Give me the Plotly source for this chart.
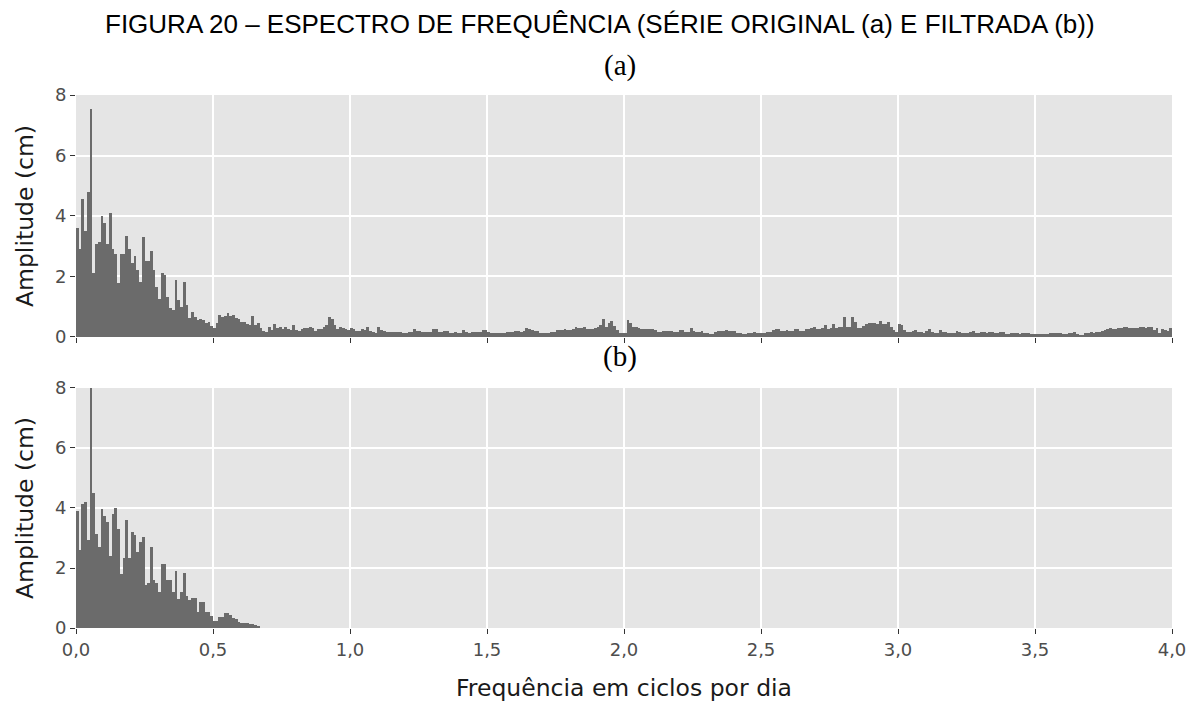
import plotly.graph_objects as go

# ---- data (amplitude in cm, bins of 0.01 cycles/day starting at 0) ----
bin_width = 0.01

# (a) original series, 0.0 - 1.0 cpd
amp_a_0_1 = [3.6, 2.9, 4.56, 3.5, 4.8, 7.54, 2.13, 3.07, 3.15, 4.0,
             3.78, 3.07, 4.11, 2.9, 2.74, 1.8, 2.74, 2.74, 3.35, 2.9,
             2.46, 2.69, 2.2, 1.82, 3.32, 2.52, 2.5, 2.85, 2.2, 1.66,
             1.26, 2.13, 2.05, 1.33, 0.96, 0.89, 1.88, 1.22, 1.0, 1.83,
             1.06, 0.62, 0.84, 0.67, 0.56, 0.58, 0.55, 0.45, 0.51, 0.37,
             0.3, 0.45, 0.73, 0.65, 0.7, 0.8, 0.69, 0.73, 0.62, 0.6,
             0.5, 0.5, 0.43, 0.4, 0.69, 0.4, 0.45, 0.29, 0.2, 0.18,
             0.34, 0.23, 0.43, 0.29, 0.34, 0.25, 0.32, 0.28, 0.23, 0.4,
             0.23, 0.21, 0.25, 0.29, 0.3, 0.32, 0.29, 0.21, 0.25, 0.28,
             0.34, 0.4, 0.65, 0.6, 0.4, 0.25, 0.34, 0.29, 0.25, 0.23]
# (a) 1.0 - 2.0 cpd
amp_a_1_2 = [0.29, 0.27, 0.21, 0.21, 0.25, 0.23, 0.32, 0.21, 0.17, 0.14,
             0.34, 0.23, 0.2, 0.18, 0.16, 0.16, 0.18, 0.18, 0.16, 0.14,
             0.14, 0.16, 0.16, 0.25, 0.21, 0.21, 0.18, 0.18, 0.18, 0.18,
             0.26, 0.26, 0.16, 0.16, 0.2, 0.2, 0.14, 0.14, 0.18, 0.14,
             0.14, 0.22, 0.15, 0.12, 0.16, 0.16, 0.18, 0.18, 0.23, 0.22,
             0.18, 0.12, 0.12, 0.12, 0.13, 0.13, 0.12, 0.16, 0.18, 0.18,
             0.2, 0.2, 0.18, 0.2, 0.29, 0.26, 0.23, 0.2, 0.2, 0.14,
             0.12, 0.12, 0.14, 0.18, 0.18, 0.23, 0.23, 0.23, 0.25, 0.23,
             0.23, 0.28, 0.32, 0.29, 0.29, 0.32, 0.25, 0.25, 0.25, 0.3,
             0.34, 0.4, 0.58, 0.34, 0.45, 0.54, 0.35, 0.23, 0.14, 0.14]
# (a) 2.0 - 3.0 cpd
amp_a_2_3 = [0.12, 0.56, 0.45, 0.32, 0.32, 0.3, 0.26, 0.26, 0.25, 0.26,
             0.26, 0.23, 0.18, 0.18, 0.2, 0.2, 0.21, 0.2, 0.18, 0.18,
             0.23, 0.22, 0.18, 0.18, 0.29, 0.21, 0.18, 0.18, 0.2, 0.14,
             0.14, 0.1, 0.1, 0.18, 0.21, 0.21, 0.21, 0.23, 0.2, 0.21,
             0.21, 0.14, 0.14, 0.1, 0.1, 0.12, 0.12, 0.15, 0.12, 0.12,
             0.12, 0.12, 0.18, 0.18, 0.23, 0.25, 0.25, 0.21, 0.21, 0.23,
             0.21, 0.21, 0.25, 0.25, 0.21, 0.21, 0.25, 0.25, 0.31, 0.34,
             0.25, 0.25, 0.29, 0.4, 0.25, 0.3, 0.43, 0.29, 0.34, 0.34,
             0.65, 0.32, 0.32, 0.65, 0.5, 0.29, 0.29, 0.35, 0.42, 0.45,
             0.45, 0.45, 0.43, 0.53, 0.42, 0.42, 0.48, 0.34, 0.23, 0.18]
# (a) 3.0 - 4.0 cpd
amp_a_3_4 = [0.43, 0.4, 0.23, 0.18, 0.18, 0.2, 0.23, 0.15, 0.15, 0.14,
             0.2, 0.28, 0.18, 0.14, 0.14, 0.23, 0.18, 0.18, 0.14, 0.12,
             0.12, 0.21, 0.18, 0.14, 0.12, 0.14, 0.18, 0.21, 0.14, 0.14,
             0.18, 0.18, 0.14, 0.16, 0.18, 0.12, 0.14, 0.15, 0.18, 0.1,
             0.1, 0.12, 0.14, 0.14, 0.1, 0.12, 0.12, 0.14, 0.1, 0.1,
             0.1, 0.1, 0.1, 0.1, 0.1, 0.12, 0.12, 0.12, 0.12, 0.12,
             0.1, 0.1, 0.14, 0.14, 0.18, 0.1, 0.07, 0.07, 0.12, 0.12,
             0.18, 0.14, 0.18, 0.18, 0.21, 0.23, 0.25, 0.29, 0.25, 0.25,
             0.29, 0.29, 0.32, 0.32, 0.29, 0.29, 0.31, 0.31, 0.34, 0.32,
             0.31, 0.34, 0.34, 0.23, 0.29, 0.14, 0.25, 0.23, 0.2, 0.29]

# (b) filtered series, 0.0 - 0.67 cpd
amp_b = [3.9, 2.6, 4.13, 4.19, 2.93, 8.0, 4.49, 3.12, 2.7, 3.97,
         3.75, 3.55, 2.4, 3.8, 3.99, 3.3, 1.8, 2.35, 3.6, 2.34,
         3.2, 3.1, 2.54, 2.88, 3.04, 1.43, 1.5, 2.71, 1.6, 1.49,
         1.21, 2.13, 2.13, 1.6, 1.6, 1.2, 1.91, 0.96, 1.21, 1.82,
         1.08, 0.93, 0.99, 0.99, 0.52, 0.88, 0.88, 0.52, 0.52, 0.4,
         0.24, 0.24, 0.38, 0.38, 0.49, 0.51, 0.45, 0.33, 0.29, 0.21,
         0.18, 0.18, 0.16, 0.12, 0.12, 0.1, 0.07]

x_ticks = [0.0, 0.5, 1.0, 1.5, 2.0, 2.5, 3.0, 3.5, 4.0]
y_ticks = [0, 2, 4, 6, 8]

title_text = "FIGURA 20 – ESPECTRO DE FREQUÊNCIA (SÉRIE ORIGINAL (a) E FILTRADA (b))"
ylab = "Amplitude (cm)"
xlab = "Frequência em ciclos por dia"

amp_a = amp_a_0_1 + amp_a_1_2 + amp_a_2_3 + amp_a_3_4

bar_color = "#6B6B6B"
bg = "#E5E5E5"
tick_font = dict(family="DejaVu Sans", size=18, color="#4D4D4D")
title_font = dict(family="DejaVu Sans", size=23.5, color="#1a1a1a")

fig = go.Figure()
fig.add_trace(go.Bar(y=amp_a, x0=bin_width / 2, dx=bin_width, width=bin_width,
                     marker=dict(color=bar_color, line=dict(width=0)),
                     xaxis="x", yaxis="y", showlegend=False, hoverinfo="x+y"))
fig.add_trace(go.Bar(y=amp_b, x0=bin_width / 2, dx=bin_width, width=bin_width,
                     marker=dict(color=bar_color, line=dict(width=0)),
                     xaxis="x2", yaxis="y2", showlegend=False, hoverinfo="x+y"))

common_x = dict(range=[0, 4], tickvals=x_ticks, tickformat=".1f",
                showgrid=True, gridcolor="white", gridwidth=1.5, zeroline=False,
                ticks="outside", ticklen=5, tickwidth=1, tickcolor="#333333",
                tickfont=tick_font, showline=False, automargin=False)
common_y = dict(range=[0, 8], tickvals=y_ticks,
                showgrid=True, gridcolor="white", gridwidth=1.5, zeroline=False,
                ticks="outside", ticklen=5, tickwidth=1, tickcolor="#333333",
                tickfont=tick_font, showline=False, automargin=False,
                title=dict(text=ylab, font=title_font, standoff=14))

fig.update_layout(
    width=1190, height=694,
    paper_bgcolor="white", plot_bgcolor=bg,
    margin=dict(l=68, r=26, t=87, b=74),
    bargap=0, separators=",.",
    font=dict(family="DejaVu Sans"),
    xaxis=dict(common_x, anchor="y", showticklabels=False),
    yaxis=dict(common_y, domain=[0.546, 1.0], anchor="x"),
    xaxis2=dict(common_x, anchor="y2",
                title=dict(text=xlab, font=title_font, standoff=20)),
    yaxis2=dict(common_y, domain=[0.0, 0.4503], anchor="x2"),
    annotations=[
        dict(text=title_text, xref="paper", yref="paper", x=0.4781, y=1.1332,
             xanchor="center", yanchor="middle", showarrow=False,
             font=dict(family="Liberation Sans", size=26, color="black")),
        dict(text="(a)", xref="paper", yref="paper", x=0.496, y=1.056,
             xanchor="center", yanchor="middle", showarrow=False,
             font=dict(family="Liberation Serif", size=29, color="black")),
        dict(text="(b)", xref="paper", yref="paper", x=0.496, y=0.5085,
             xanchor="center", yanchor="middle", showarrow=False,
             font=dict(family="Liberation Serif", size=29, color="black")),
    ],
)

fig.write_html("out.html")
